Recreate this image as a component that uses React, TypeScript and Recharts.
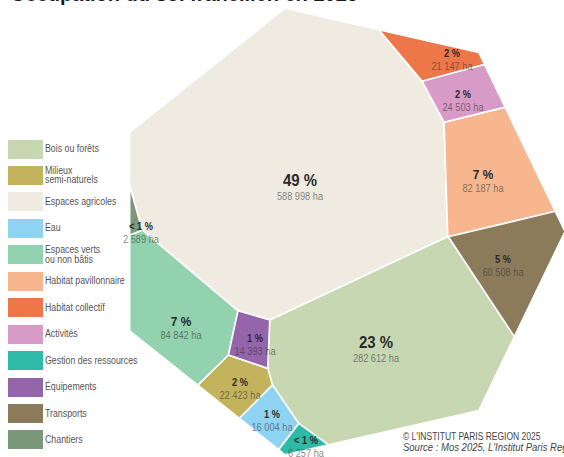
import React from "react";
import { ScatterChart, Scatter, XAxis, YAxis } from "recharts";

const categories = [
  "Bois ou forêts",
  "Milieux semi-naturels",
  "Espaces agricoles",
  "Eau",
  "Espaces verts ou non bâtis",
  "Habitat pavillonnaire",
  "Habitat collectif",
  "Activités",
  "Gestion des ressources",
  "Équipements",
  "Transports",
  "Chantiers",
];
const hectares = [282612, 22423, 588998, 16004, 84842, 82187, 21147, 24503, 6257, 14393, 60508, 2589];
const colors = [
  "#c6d7b2", "#c3b35d", "#efebe1", "#8fd3f3", "#92d2ae", "#f8b68e",
  "#ee774a", "#d89ac7", "#2fb9a7", "#9565ab", "#8b7b5b", "#7b987a",
];
const legendLines = [
  ["Bois ou forêts"],
  ["Milieux", "semi-naturels"],
  ["Espaces agricoles"],
  ["Eau"],
  ["Espaces verts", "ou non bâtis"],
  ["Habitat pavillonnaire"],
  ["Habitat collectif"],
  ["Activités"],
  ["Gestion des ressources"],
  ["Équipements"],
  ["Transports"],
  ["Chantiers"],
];
// seed position of each cell (layout of the voronoi treemap)
const siteX = [376, 240, 300, 272, 181, 483, 452, 463, 306, 255, 503, 141];
const siteY = [350, 389, 188, 421, 329, 182, 60, 101, 447, 345, 266, 233];

const FONT = '"Liberation Sans", Arial, sans-serif';
const N = categories.length;
const total = hectares.reduce((s, v) => s + v, 0);

type Pt = { x: number; y: number; tag: number };

// heptagon that holds the treemap
function boundary(): Pt[] {
  const pts: Pt[] = [];
  for (let k = 0; k < 7; k++) {
    const a = (2 * Math.PI * k) / 7;
    pts.push({ x: 336 + 229 * Math.cos(a), y: 231.5 + 229 * Math.sin(a), tag: -1 });
  }
  return pts;
}

function polyArea(p: Pt[]) {
  let s = 0;
  for (let k = 0; k < p.length; k++) {
    const q = p[(k + 1) % p.length];
    s += p[k].x * q.y - q.x * p[k].y;
  }
  return Math.abs(s) / 2;
}

// keep a*x + b*y <= c
function clip(poly: Pt[], a: number, b: number, c: number, tag: number): Pt[] {
  const out: Pt[] = [];
  const n = poly.length;
  for (let k = 0; k < n; k++) {
    const p = poly[(k + n - 1) % n];
    const q = poly[k];
    const fp = a * p.x + b * p.y - c;
    const fq = a * q.x + b * q.y - c;
    if (fp <= 0 && fq <= 0) out.push(q);
    else if (fp <= 0 && fq > 0) {
      const t = fp / (fp - fq);
      out.push({ x: p.x + t * (q.x - p.x), y: p.y + t * (q.y - p.y), tag: q.tag });
    } else if (fp > 0 && fq <= 0) {
      const t = fp / (fp - fq);
      out.push({ x: p.x + t * (q.x - p.x), y: p.y + t * (q.y - p.y), tag });
      out.push(q);
    }
  }
  return out;
}

function powerCells(w: number[]) {
  const base = boundary();
  return siteX.map((_, i) => {
    let poly = base;
    for (let j = 0; j < N; j++) {
      if (j === i || poly.length === 0) continue;
      const a = 2 * (siteX[j] - siteX[i]);
      const b = 2 * (siteY[j] - siteY[i]);
      const c = siteX[j] ** 2 + siteY[j] ** 2 - siteX[i] ** 2 - siteY[i] ** 2 - w[j] + w[i];
      poly = clip(poly, a, b, c, j);
    }
    return poly;
  });
}

// adjust power weights until each cell area matches its share of hectares
function solveCells() {
  const area0 = polyArea(boundary());
  const target = hectares.map((v) => (v / total) * area0);
  const w = new Array(N).fill(0);
  for (let it = 0; it < 900; it++) {
    const cells = powerCells(w);
    const dw = cells.map((poly, i) => {
      const A = polyArea(poly);
      if (A < 1e-6) return 300;
      let d = 0;
      for (let k = 0; k < poly.length; k++) {
        const t = poly[k].tag;
        if (t < 0) continue;
        const p = poly[(k + poly.length - 1) % poly.length];
        const len = Math.hypot(poly[k].x - p.x, poly[k].y - p.y);
        d += len / (2 * Math.hypot(siteX[t] - siteX[i], siteY[t] - siteY[i]));
      }
      return d > 0 ? (0.4 * (target[i] - A)) / d : 0;
    });
    dw.forEach((v, i) => (w[i] += v));
  }
  return powerCells(w);
}

const cells = solveCells();

const fmtHa = (v: number) => v.toString().replace(/\B(?=(\d{3})+(?!\d))/g, " ") + " ha";
const fmtPct = (v: number) => (v / total < 0.01 ? "< 1 %" : Math.round((v / total) * 100) + " %");

const labelData = categories.map((name, i) => ({
  x: siteX[i],
  y: siteY[i],
  name,
  share: hectares[i] / total,
  pct: fmtPct(hectares[i]),
  ha: fmtHa(hectares[i]),
}));

function CellLabel(props: any) {
  const { cx, cy, payload } = props;
  const big = payload.share >= 0.2;
  const mid = payload.share >= 0.06;
  const fs = big ? 17 : mid ? 13.5 : 10.5;
  return (
    <g fontFamily={FONT} transform={`translate(${cx},${cy}) scale(0.88,1)`}>
      <text x={0} y={big ? -2 : -3} textAnchor="middle" fontSize={fs} fontWeight="bold" fill="#2a2a2a">
        {payload.pct}
      </text>
      <text x={0} y={big ? 12 : 10} textAnchor="middle" fontSize={10.5} fill="#333" fillOpacity={0.6}>
        {payload.ha}
      </text>
    </g>
  );
}

const narrow = (sx: number): React.CSSProperties => ({
  display: "inline-block",
  transform: `scaleX(${sx})`,
  transformOrigin: "0 50%",
});

export default function App() {
  return (
    <div style={{ position: "absolute", left: 0, top: 0, width: 564, height: 457, overflow: "hidden", background: "#fff" }}>
      <div
        style={{
          position: "absolute",
          left: 10,
          top: -16,
          fontFamily: FONT,
          fontWeight: "bold",
          fontSize: 20,
          lineHeight: "20px",
          color: "#1a1a1a",
          whiteSpace: "nowrap",
        }}
      >
        Occupation du sol francilien en 2025
      </div>
      <ScatterChart width={564} height={457} margin={{ top: 0, right: 0, bottom: 0, left: 0 }}>
        <XAxis type="number" dataKey="x" domain={[0, 564]} allowDataOverflow hide />
        <YAxis type="number" dataKey="y" domain={[0, 457]} allowDataOverflow reversed hide />
        {cells.map((poly, i) => (
          <Scatter
            key={categories[i]}
            name={categories[i]}
            data={poly.map((p) => ({ x: p.x, y: p.y }))}
            isAnimationActive={false}
            line={{ fill: colors[i], stroke: "#ffffff", strokeWidth: 1.6 }}
            lineType="joint"
            lineJointType="linearClosed"
            shape={() => <g />}
          />
        ))}
        <Scatter data={labelData} isAnimationActive={false} shape={(p: any) => <CellLabel {...p} />} />
      </ScatterChart>
      <div style={{ position: "absolute", left: 0, top: 0 }}>
        {legendLines.map((lines, i) => {
          const cy = 149 + i * 26.45;
          return (
            <div key={i} style={{ position: "absolute", left: 8, top: cy - 9.5, width: 120, height: 19 }}>
              <div style={{ position: "absolute", left: 0, top: 0, width: 35, height: 19, background: colors[i] }} />
              <div
                style={{
                  position: "absolute",
                  left: 37,
                  top: lines.length > 1 ? 0 : 4.5,
                  fontFamily: FONT,
                  fontSize: 10,
                  lineHeight: "9.5px",
                  color: "#555",
                  whiteSpace: "nowrap",
                }}
              >
                {lines.map((l) => (
                  <div key={l}>
                    <span style={narrow(0.88)}>{l}</span>
                  </div>
                ))}
              </div>
            </div>
          );
        })}
      </div>
      <div
        style={{
          position: "absolute",
          left: 403,
          top: 432,
          fontFamily: FONT,
          fontSize: 10,
          lineHeight: "10.5px",
          color: "#444",
          whiteSpace: "nowrap",
        }}
      >
        <div>
          <span style={narrow(0.85)}>© L'INSTITUT PARIS REGION 2025</span>
        </div>
        <div>
          <span style={{ ...narrow(0.95), fontStyle: "italic" }}>Source : Mos 2025, L'Institut Paris Region</span>
        </div>
      </div>
    </div>
  );
}
